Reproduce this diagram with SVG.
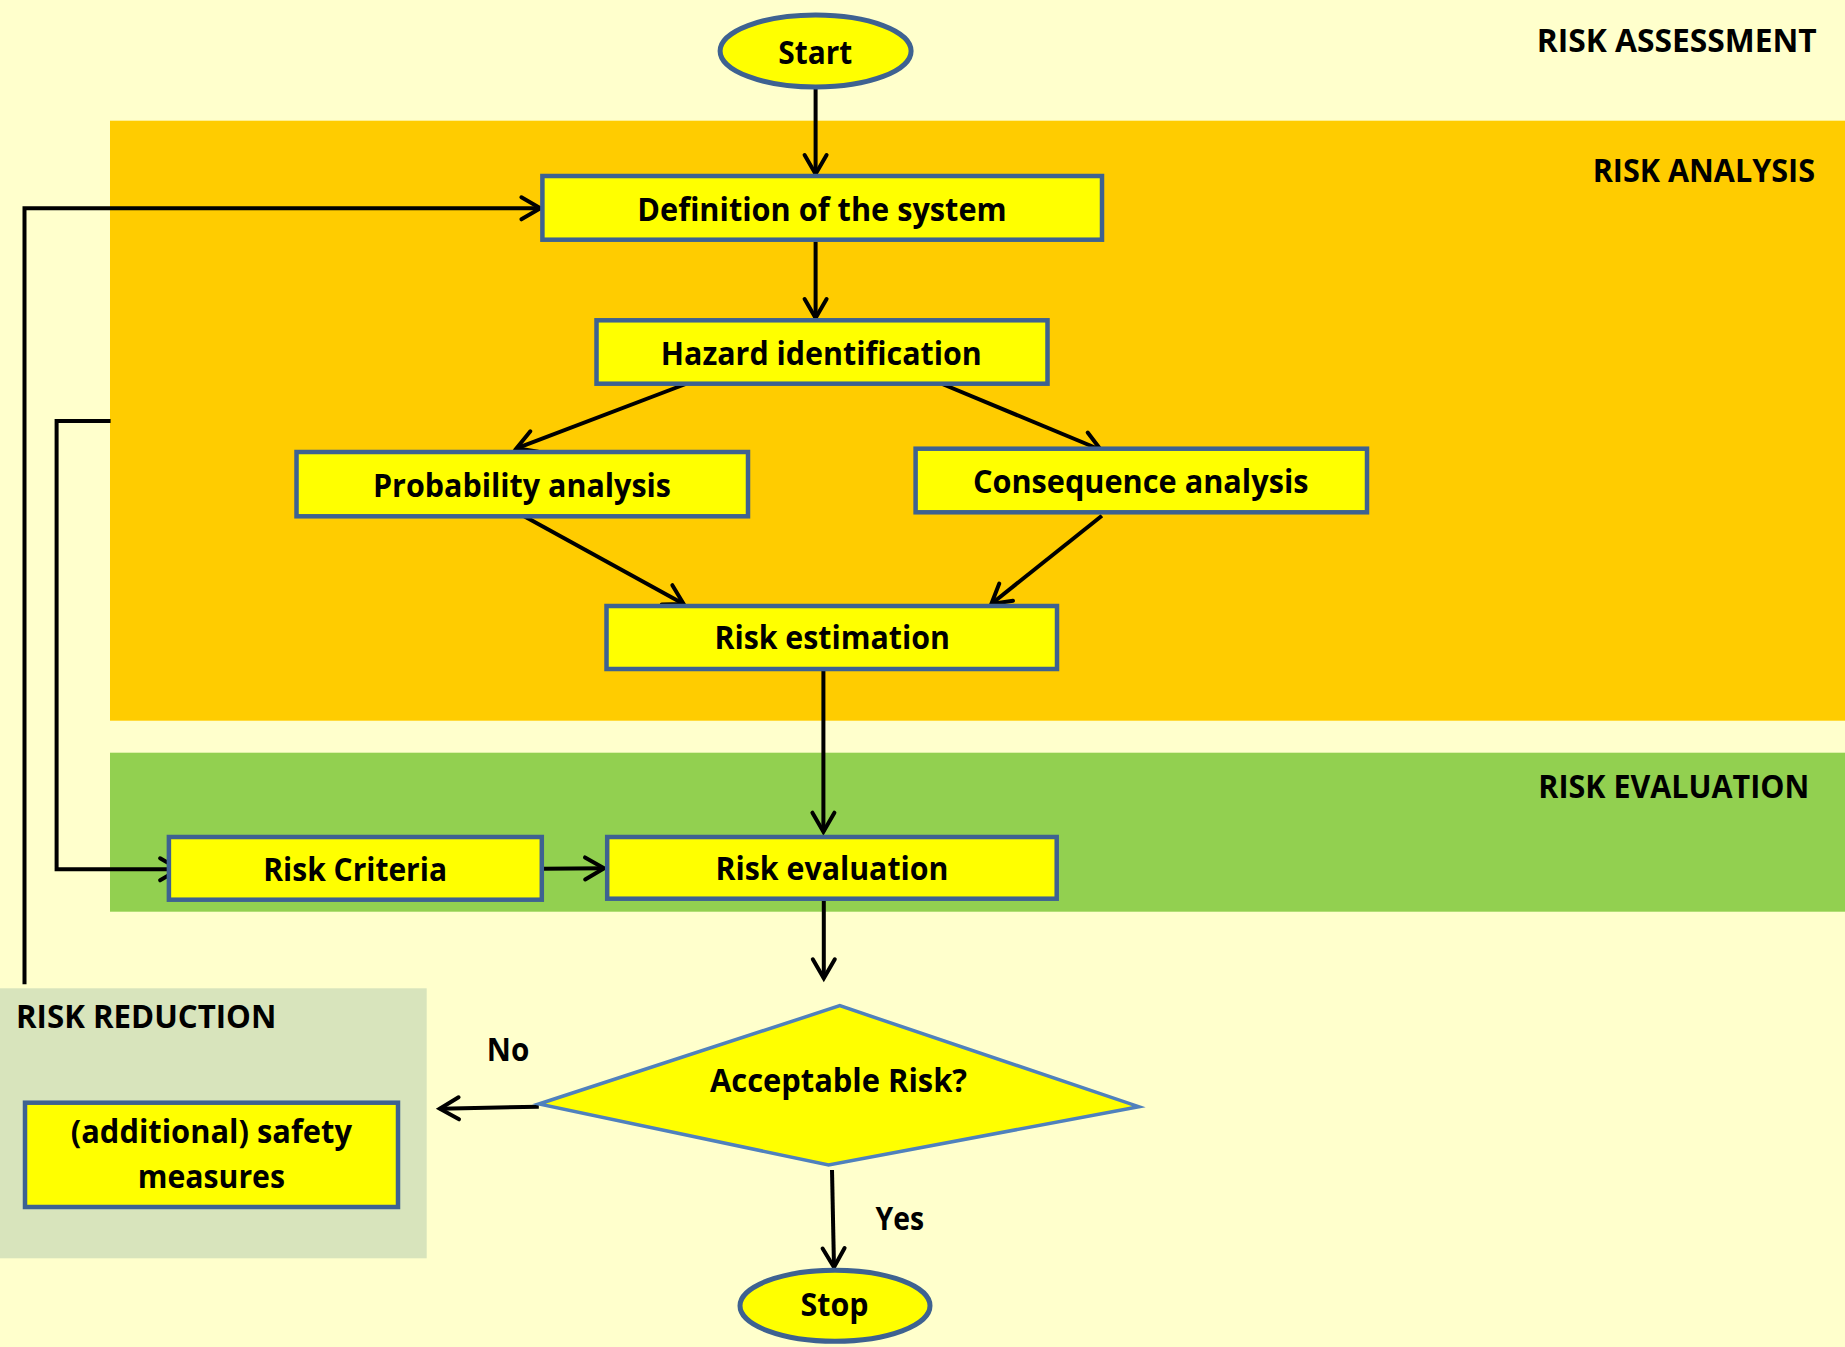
<svg xmlns="http://www.w3.org/2000/svg" width="1845" height="1347" viewBox="0 0 1845 1347">
<style>
.box{fill:#FFFF00;stroke:#3E6291;stroke-width:4.5}
.term{fill:#FFFF00;stroke:#3E6291;stroke-width:5}
.dia{fill:#FFFF00;stroke:#4F81BD;stroke-width:3.5}
.t{font-family:"Open Sans","Liberation Sans",Arial,sans-serif;font-weight:700;font-size:31.5px;fill:#000}
.c{fill:none;stroke:#000;stroke-width:4;marker-end:url(#ah)}
</style>
<defs>
<marker id="ah" markerUnits="userSpaceOnUse" viewBox="-24 -14 28 28" refX="0" refY="0" markerWidth="28" markerHeight="28" orient="auto" overflow="visible">
<path d="M -19 -11 L 0 0 L -19 11" fill="none" stroke="#000" stroke-width="4" stroke-linecap="round" stroke-linejoin="miter"/>
</marker>
</defs>
<g id="background">
<rect x="0" y="0" width="1845" height="1347" fill="#FFFFCC"/>
<rect x="110" y="120.7" width="1735" height="600" fill="#FFCC00"/>
<rect x="110" y="752.7" width="1735" height="159" fill="#92D050"/>
<rect x="0" y="988.3" width="426.7" height="270" fill="#D8E4BC"/>
</g>
<g id="region-labels">
<text class="t" x="1536.7" y="51.7" textLength="280" lengthAdjust="spacingAndGlyphs">RISK ASSESSMENT</text>
<text class="t" x="1592.7" y="181.7" textLength="222.3" lengthAdjust="spacingAndGlyphs">RISK ANALYSIS</text>
<text class="t" x="1538.3" y="797.7" textLength="271" lengthAdjust="spacingAndGlyphs">RISK EVALUATION</text>
<text class="t" x="16" y="1028.3" textLength="260.3" lengthAdjust="spacingAndGlyphs">RISK REDUCTION</text>
</g>
<g id="connectors">
<path class="c" d="M 815.6 89 L 815.6 174"/>
<path class="c" d="M 815.6 241.7 L 815.6 318"/>
<path class="c" d="M 685.7 384 L 516.5 448.3"/>
<path class="c" d="M 942.3 384 L 1101 450"/>
<path class="c" d="M 521.9 515 L 683.7 604"/>
<path class="c" d="M 1101.9 515.7 L 991.3 604"/>
<path class="c" d="M 823.4 671 L 823.4 831.7"/>
<path class="c" d="M 542.9 868.8 L 604.1 868.3"/>
<path class="c" d="M 823.8 900.7 L 823.8 978.3"/>
<path class="c" d="M 538.8 1106.7 L 439.8 1108.7"/>
<path class="c" d="M 832 1170 L 834 1267.3"/>
<path class="c" d="M 24.5 984.3 L 24.5 208.3 L 540.4 208.3"/>
<path class="c" d="M 110.6 421 L 56.6 421 L 56.6 869.3 L 179.1 869.3"/>
<text class="t" x="486.8" y="1060.7" textLength="42.5" lengthAdjust="spacingAndGlyphs">No</text>
<text class="t" x="875.5" y="1230" textLength="48.5" lengthAdjust="spacingAndGlyphs">Yes</text>
</g>
<g id="start">
<ellipse class="term" cx="815.6" cy="51" rx="95.5" ry="36"/>
<text class="t" x="778.3" y="64" textLength="74" lengthAdjust="spacingAndGlyphs">Start</text>
</g>
<g id="definition">
<rect class="box" x="542.4" y="176" width="559.6" height="63.7"/>
<text class="t" x="637.3" y="220.7" textLength="369.4" lengthAdjust="spacingAndGlyphs">Definition of the system</text>
</g>
<g id="hazard">
<rect class="box" x="596.5" y="320.3" width="451" height="63.4"/>
<text class="t" x="660.8" y="365" textLength="321" lengthAdjust="spacingAndGlyphs">Hazard identification</text>
</g>
<g id="probability">
<rect class="box" x="296.5" y="452" width="451.5" height="64.3"/>
<text class="t" x="373" y="496.7" textLength="298" lengthAdjust="spacingAndGlyphs">Probability analysis</text>
</g>
<g id="consequence">
<rect class="box" x="915.6" y="448.7" width="451.4" height="63.6"/>
<text class="t" x="972.9" y="492.7" textLength="335.6" lengthAdjust="spacingAndGlyphs">Consequence analysis</text>
</g>
<g id="estimation">
<rect class="box" x="606.5" y="606" width="450.5" height="63"/>
<text class="t" x="714.4" y="649.3" textLength="235.5" lengthAdjust="spacingAndGlyphs">Risk estimation</text>
</g>
<g id="criteria">
<rect class="box" x="168.9" y="837" width="372.9" height="62.7"/>
<text class="t" x="263.3" y="881" textLength="183.7" lengthAdjust="spacingAndGlyphs">Risk Criteria</text>
</g>
<g id="evaluation">
<rect class="box" x="607.2" y="837" width="449.5" height="61.7"/>
<text class="t" x="715.5" y="880" textLength="233" lengthAdjust="spacingAndGlyphs">Risk evaluation</text>
</g>
<g id="decision">
<polygon class="dia" points="538.8,1104 839.8,1005.7 1138.8,1106.7 828.6,1165"/>
<text class="t" x="710" y="1091.7" textLength="257" lengthAdjust="spacingAndGlyphs">Acceptable Risk?</text>
</g>
<g id="safety">
<rect class="box" x="25" y="1102.7" width="373" height="104.3"/>
<text class="t" x="70.8" y="1143.3" textLength="281.2" lengthAdjust="spacingAndGlyphs">(additional) safety</text>
<text class="t" x="137.8" y="1188.3" textLength="147.2" lengthAdjust="spacingAndGlyphs">measures</text>
</g>
<g id="stop">
<ellipse class="term" cx="835" cy="1305.8" rx="95" ry="35.5"/>
<text class="t" x="800.5" y="1316" textLength="68" lengthAdjust="spacingAndGlyphs">Stop</text>
</g>
</svg>
